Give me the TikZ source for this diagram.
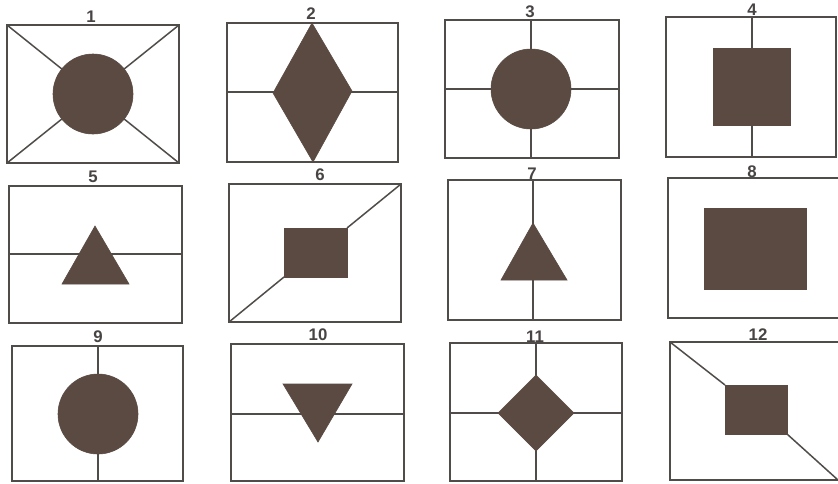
\documentclass[tikz,border=0pt]{standalone}
\usepackage{fontspec}
\setmainfont{Liberation Sans}
\definecolor{ink}{RGB}{80,76,74}
\definecolor{solid}{RGB}{90,74,66}
\begin{document}
\begin{tikzpicture}[x=0.5pt,y=-0.5pt,
  frame/.style={draw=ink,line width=0.75pt},
  rule/.style={draw=ink,line width=0.75pt},
  blob/.style={fill=solid,draw=solid,line width=0.3pt},
  num/.style={font=\bfseries\fontsize{8.4}{9}\selectfont,text=ink!90!black,inner sep=0pt}]
\useasboundingbox (0,0) rectangle (838,483);
% labels
\node[num] (l1) at (91,17) {1};
\node[num] (l2) at (311,14) {2};
\node[num] (l3) at (530,12) {3};
\node[num] (l4) at (752,10) {4};
\node[num] (l5) at (93,177) {5};
\node[num] (l6) at (320,175) {6};
\node[num] (l7) at (532,174) {7};
\node[num] (l8) at (752,172) {8};
\node[num] (l9) at (98,337) {9};
\node[num] (l10) at (318,335) {10};
\node[num] (l11) at (535,337) {11};
\node[num] (l12) at (758,335) {12};
% panel 1
\draw[frame] (7,25) rectangle (179,163);
\draw[rule] (7,25) -- (93,94) -- (179,25);
\draw[rule] (7,163) -- (93,94) -- (179,163);
\fill[blob] (93,94) circle (40);
% panel 2
\draw[frame] (227,23) rectangle (398,162);
\draw[rule] (227,92) -- (398,92);
\filldraw[blob] (312,23) -- (352,91) -- (313,162) -- (273,93) -- cycle;
% panel 3
\draw[frame] (445,20) rectangle (619,158);
\draw[rule] (531,20) -- (531,158);
\draw[rule] (445,89) -- (619,89);
\filldraw[blob] (531,89) circle (40);
% panel 4
\draw[frame] (666,17) rectangle (836,157);
\draw[rule] (752,17) -- (752,157);
\filldraw[blob] (713,48) rectangle (790,125);
% panel 5
\draw[frame] (9,186) rectangle (182,323);
\draw[rule] (9,254) -- (182,254);
\filldraw[blob] (95,226) -- (129,284) -- (62,284) -- cycle;
% panel 6
\draw[frame] (229,184) rectangle (401,322);
\draw[rule] (229,322) -- (284,277);
\draw[rule] (347,228) -- (401,184);
\filldraw[blob] (284,228) rectangle (347,277);
% panel 7
\draw[frame] (448,180) rectangle (621,320);
\draw[rule] (533,180) -- (533,320);
\filldraw[blob] (533,223) -- (567,280) -- (501,280) -- cycle;
% panel 8
\draw[frame] (668,178) rectangle (842,318);
\filldraw[blob] (704,208) rectangle (806,289);
% panel 9
\draw[frame] (12,346) rectangle (183,481);
\draw[rule] (98,346) -- (98,481);
\filldraw[blob] (98,414) circle (40);
% panel 10
\draw[frame] (231,344) rectangle (404,481);
\draw[rule] (231,414) -- (404,414);
\filldraw[blob] (283,384) -- (352,384) -- (318,442) -- cycle;
% panel 11
\draw[frame] (450,343) rectangle (622,481);
\draw[rule] (536,343) -- (536,481);
\draw[rule] (450,413) -- (622,413);
\filldraw[blob] (536,375) -- (574,413) -- (536,451) -- (498,413) -- cycle;
% panel 12
\draw[frame] (670,342) rectangle (842,480);
\draw[rule] (670,342) -- (725,385);
\draw[rule] (787,434) -- (838,480);
\filldraw[blob] (725,385) rectangle (787,434);
\end{tikzpicture}
\end{document}
